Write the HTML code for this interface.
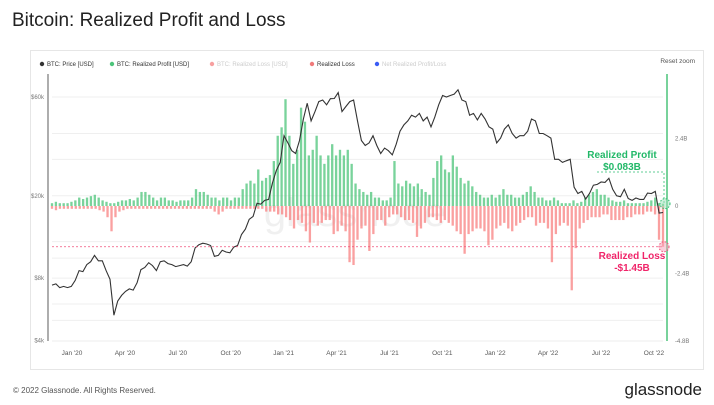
<!DOCTYPE html>
<html><head><meta charset="utf-8">
<style>
body{margin:0;width:714px;height:405px;background:#fff;font-family:"Liberation Sans",sans-serif;overflow:hidden;position:relative}
.t{position:absolute;left:12px;top:10px;font-size:19px;color:#222}
.card{position:absolute;left:30px;top:50px;width:672px;height:318px;border:1px solid #e6e6e6;background:#fff}
.foot{position:absolute;left:13px;top:386px;font-size:8px;color:#555}
.logo{position:absolute;right:12px;top:380px;font-size:17px;color:#222}
</style></head><body>
<div class="t">Bitcoin: Realized Profit and Loss</div>
<div class="card"></div>
<svg id="c" width="714" height="405" style="position:absolute;left:0;top:0"></svg>
<div class="foot">© 2022 Glassnode. All Rights Reserved.</div>
<div class="logo">glassnode</div>
<script>
const xTicks=["Jan '20","Apr '20","Jul '20","Oct '20","Jan '21","Apr '21","Jul '21","Oct '21","Jan '22","Apr '22","Jul '22","Oct '22"];
const priceTicks=[60000,20000,8000,4000];
const priceTickLabels=["$60k","$20k","$8k","$4k"];
const pnlTicks=[2.4,0,-2.4,-4.8];
const pnlTickLabels=["2.4B","0","-2.4B","-4.8B"];
const price=[7400,7500,7200,7300,7200,7300,7800,8700,8600,9300,9600,10300,9700,9700,8700,7900,5300,6200,6600,6900,7100,7000,7600,8800,9000,9500,9200,8700,9600,9700,9400,9300,9100,9200,9300,9150,9600,11200,11600,11800,11700,11500,10200,10300,10900,10700,10600,11300,11500,13000,13800,15400,15900,18400,18200,19000,19200,23000,26500,29000,39000,36000,33000,32000,37000,47000,56000,46000,51000,57000,58000,55000,58900,59000,63000,51000,54000,57000,58000,46000,37000,35000,36000,39000,35000,32000,34000,33000,31500,35500,41000,44000,46000,49000,48000,50000,46000,48000,43000,48000,55000,61000,60000,61000,62000,65000,58000,57000,49000,50000,46500,50000,47000,43000,42000,36000,38000,42000,44000,40000,38000,39000,39000,41000,47000,46000,40000,40000,39000,38000,30000,30000,29000,29500,30000,22000,20500,21000,19300,20500,22500,22700,23300,23200,24300,21500,20000,19800,21500,19400,19000,19500,19200,19200,20600,20500,21000,16500,16600];
const profit=[0.1,0.15,0.1,0.1,0.1,0.15,0.2,0.3,0.25,0.3,0.35,0.4,0.3,0.2,0.15,0.1,0.1,0.15,0.2,0.2,0.25,0.2,0.3,0.5,0.5,0.4,0.3,0.2,0.3,0.3,0.2,0.2,0.15,0.2,0.2,0.2,0.3,0.6,0.5,0.5,0.4,0.3,0.3,0.2,0.3,0.3,0.2,0.3,0.3,0.6,0.8,0.9,0.8,1.3,0.9,1.0,1.1,1.6,2.5,2.8,3.8,2.5,1.5,2.0,3.5,3.0,1.8,2.0,2.5,1.8,1.5,1.8,2.2,1.8,2.0,1.8,2.0,1.5,0.8,0.6,0.5,0.4,0.5,0.3,0.3,0.2,0.2,0.3,1.6,0.8,0.7,0.9,0.8,0.7,0.8,0.6,0.5,0.4,1.0,1.6,1.8,1.3,1.2,1.8,1.4,1.0,0.8,0.9,0.7,0.5,0.4,0.3,0.3,0.4,0.3,0.4,0.6,0.4,0.4,0.3,0.3,0.4,0.5,0.7,0.5,0.3,0.3,0.2,0.2,0.3,0.2,0.1,0.1,0.1,0.2,0.1,0.15,0.3,0.4,0.5,0.6,0.4,0.4,0.3,0.2,0.15,0.15,0.2,0.1,0.1,0.1,0.1,0.1,0.15,0.2,0.3,0.1,0.083];
const loss=[-0.1,-0.15,-0.1,-0.1,-0.1,-0.1,-0.1,-0.1,-0.1,-0.1,-0.1,-0.1,-0.15,-0.2,-0.4,-0.9,-0.4,-0.2,-0.15,-0.1,-0.1,-0.1,-0.1,-0.1,-0.1,-0.1,-0.1,-0.1,-0.1,-0.1,-0.1,-0.1,-0.1,-0.1,-0.1,-0.1,-0.1,-0.1,-0.1,-0.1,-0.1,-0.2,-0.3,-0.2,-0.1,-0.1,-0.1,-0.1,-0.1,-0.1,-0.1,-0.1,-0.1,-0.1,-0.2,-0.2,-0.2,-0.3,-0.3,-0.4,-0.5,-0.8,-0.5,-0.6,-0.9,-1.3,-0.6,-0.7,-0.6,-0.5,-0.5,-1.0,-0.9,-0.7,-0.9,-2.0,-2.1,-1.2,-0.8,-0.7,-1.6,-1.0,-0.5,-0.5,-0.7,-0.4,-0.3,-0.3,-0.4,-0.5,-0.5,-0.6,-1.1,-0.8,-0.6,-0.4,-0.4,-0.5,-0.6,-0.5,-0.6,-0.7,-0.9,-1.0,-1.7,-1.0,-0.9,-0.8,-0.8,-0.9,-1.4,-1.2,-0.8,-0.7,-0.6,-0.8,-0.9,-0.7,-0.6,-0.5,-0.4,-0.4,-0.7,-0.6,-0.6,-0.8,-2.0,-1.0,-0.7,-0.6,-0.7,-3.0,-1.5,-0.8,-0.6,-0.5,-0.4,-0.4,-0.4,-0.3,-0.3,-0.5,-0.5,-0.5,-0.5,-0.4,-0.4,-0.3,-0.3,-0.3,-0.2,-0.2,-0.3,-1.2,-1.45];
const realizedProfitLabel="$0.083B", realizedLossLabel="-$1.45B";
const X0=52,X1=663,Y0=80,Y1=341;
const svg=document.getElementById('c');const NS="http://www.w3.org/2000/svg";
function el(t,a,p){const e=document.createElementNS(NS,t);for(const k in a)e.setAttribute(k,a[k]);(p||svg).appendChild(e);return e;}
function yP(v){return 97+207*(Math.log10(60000)-Math.log10(v));}
function yB(v){return 206-v*28.1;}
function xi(i,n){return X0+(X1-X0)*i/(n-1);}
function xq(q){return 72+q*52.9;}
[60000,40000,30000,20000,12000,10000,8000,6000,5000].forEach(v=>{const g=el('line',{x1:X0,x2:X1,y1:yP(v),y2:yP(v),stroke:'#efefef','stroke-width':1});

});
const la=el('line',{x1:48,x2:48,y1:Y0-6,y2:Y1,stroke:'#777','stroke-width':1.2});

const ra=el('line',{x1:667,x2:667,y1:Y0-6,y2:Y1,stroke:'#4cc47a','stroke-width':1.5});

el('line',{x1:X0,x2:X1,y1:Y1,y2:Y1,stroke:'#eee'});
priceTicks.forEach((v,i)=>{const t=el('text',{x:44,y:yP(v)+2,'text-anchor':'end','font-size':6,fill:'#777'});t.textContent=priceTickLabels[i];
});
pnlTicks.forEach((v,i)=>{const t=el('text',{x:675,y:yB(v)+2,'font-size':6,fill:'#777'});t.textContent=pnlTickLabels[i];
});
xTicks.forEach((s,i)=>{const t=el('text',{x:xq(i),y:355,'text-anchor':'middle','font-size':6.5,fill:'#555'});t.textContent=s;
});
const wm=el('text',{x:355,y:226,'text-anchor':'middle','font-size':40,fill:'#000','fill-opacity':0.06});wm.textContent='glassnode';

const bw=(X1-X0)/profit.length*0.6;
profit.forEach((v,i)=>{const x=xi(i,profit.length);const b=el('rect',{x:x-bw/2,y:yB(v),width:bw,height:206-yB(v),fill:'#4cc47a','fill-opacity':0.75});
});
loss.forEach((v,i)=>{const x=xi(i,loss.length);const b=el('rect',{x:x-bw/2,y:206,width:bw,height:yB(v)-206,fill:'#f88080','fill-opacity':0.75});
});
let d='';price.forEach((v,i)=>{d+=(i?'L':'M')+xi(i,price.length).toFixed(1)+','+yP(v).toFixed(1);});
const pl=el('path',{d:d,fill:'none',stroke:'#333','stroke-width':1.1});

const lastL=loss[loss.length-1],lastP=profit[profit.length-1];
el('line',{x1:X0,x2:663,y1:yB(lastL),y2:yB(lastL),stroke:'#f0507a','stroke-dasharray':'2,2','stroke-width':0.8});
el('circle',{cx:664,cy:yB(lastL),r:5,fill:'#f6a0b8','fill-opacity':0.5,stroke:'#f0507a','stroke-dasharray':'1.5,1.5'});
el('path',{d:`M597,172H664V${yB(lastP)}`,fill:'none',stroke:'#2fbf72','stroke-dasharray':'2,2','stroke-width':0.8});
el('circle',{cx:665,cy:yB(lastP),r:5,fill:'#9ee0b8','fill-opacity':0.5,stroke:'#2fbf72','stroke-dasharray':'1.5,1.5'});
[['Realized Profit',158,'#22b868','profit-annotation'],[realizedProfitLabel,170,'#22b868','profit-annotation'],['Realized Loss',259,'#f0256a','loss-annotation'],[realizedLossLabel,271,'#f0256a','loss-annotation']].forEach((a,i)=>{
const t=el('text',{x:i<2?622:632,y:a[1],'text-anchor':'middle','font-size':10,'font-weight':'bold',fill:a[2]});t.textContent=a[0];
});
const leg=[['BTC: Price [USD]','#333','#333'],['BTC: Realized Profit [USD]','#4cc47a','#333'],['BTC: Realized Loss [USD]','#f7a0a0','#ccc'],['Realized Loss','#f07a7a','#333'],['Net Realized Profit/Loss','#3a5cf5','#ccc']];
let lx=42;const lw=[60,90,90,55,80];
leg.forEach((l,i)=>{const g=el('g',{});

el('circle',{cx:lx,cy:64,r:2.2,fill:l[1]},g);const t=el('text',{x:lx+5,y:66.2,'font-size':6,fill:l[2]},g);t.textContent=l[0];lx+=lw[i]+10;});
const rz=el('text',{x:695,y:63,'text-anchor':'end','font-size':6.5,fill:'#555'});rz.textContent='Reset zoom';

</script>
</body></html>
